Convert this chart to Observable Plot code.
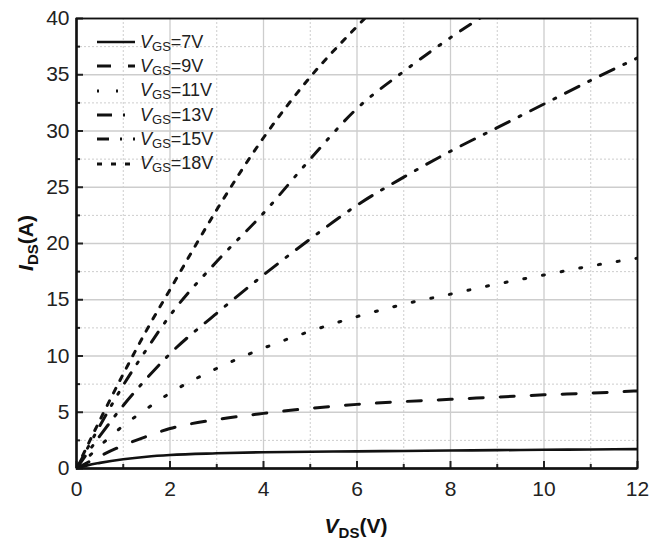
<!DOCTYPE html>
<html>
<head>
<meta charset="utf-8">
<script src="https://cdn.jsdelivr.net/npm/d3@7"></script>
<script src="https://cdn.jsdelivr.net/npm/@observablehq/plot@0.6"></script>
<style>
  html, body { margin: 0; padding: 0; background: #fff; }
  #wrap { position: relative; width: 663px; height: 540px; font-family: "Liberation Sans", Arial, sans-serif; }
  #legend { position: absolute; left: 96px; top: 30px; }
  .lg { display: flex; align-items: center; height: 24.3px; font-size: 18px; color: #222; }
  .lg svg { margin-right: 4px; }
  .lg i { font-style: italic; }
  .lg sub { font-size: 13px; vertical-align: -3px; line-height: 0; }
  #wrap > svg text.tick { font-size: 21px !important; }
</style>
</head>
<body>
<div id="wrap"><div id="legend"></div></div>
<script>
// ---- data ----
const vgsLabels = ["7V", "9V", "11V", "13V", "15V", "18V"];
const dashes = [null, "14,17", "2,17", "15,11,2,11", "12,11,2,11,2,11", "5,9"];

const vds7  = [0, 0.25, 0.5, 1, 1.5, 2, 3, 4, 5, 6, 7, 8, 9, 10, 11, 12];
const ids7  = [0, 0.3, 0.5, 0.82, 1.05, 1.2, 1.35, 1.45, 1.49, 1.52, 1.56, 1.6, 1.63, 1.66, 1.69, 1.72];
const vds9  = [0, 0.5, 1, 1.5, 2, 3, 4, 5, 6, 7, 8, 9, 10, 11, 12];
const ids9  = [0, 1.1, 2.05, 2.85, 3.55, 4.35, 4.9, 5.35, 5.7, 5.95, 6.15, 6.35, 6.55, 6.7, 6.9];
const vds11 = [0, 0.5, 1, 1.5, 2, 3, 4, 5, 6, 7, 8, 9, 10, 11, 12];
const ids11 = [0, 2.0, 3.8, 5.3, 6.7, 8.9, 10.7, 12.2, 13.5, 14.6, 15.5, 16.4, 17.2, 18.0, 18.7];
const vds13 = [0, 0.5, 1, 1.5, 2, 3, 4, 5, 6, 7, 8, 9, 10, 11, 12];
const ids13 = [0, 2.9, 5.6, 8.0, 10.2, 13.8, 17.2, 20.4, 23.4, 25.9, 28.2, 30.3, 32.4, 34.5, 36.5];
const vds15 = [0, 0.5, 1, 1.5, 2, 3, 4, 5, 6, 7, 8, 9];
const ids15 = [0, 3.8, 7.4, 10.6, 13.6, 18.4, 22.7, 27.5, 32.0, 35.3, 38.3, 41.0];
const vds18 = [0, 0.5, 1, 1.5, 2, 3, 4, 5, 6, 7];
const ids18 = [0, 4.3, 8.4, 12.3, 15.9, 23.0, 29.4, 34.8, 39.3, 43.5];

const xMajor = [0, 2, 4, 6, 8, 10, 12];
const xMinor = [1, 3, 5, 7, 9, 11];
const yMajor = [0, 5, 10, 15, 20, 25, 30, 35, 40];
const yMinor = [2.5, 7.5, 12.5, 17.5, 22.5, 27.5, 32.5, 37.5];

const seriesX = [vds7, vds9, vds11, vds13, vds15, vds18];
const seriesY = [ids7, ids9, ids11, ids13, ids15, ids18];

const rows = [];
seriesX.forEach((xs, s) => xs.forEach((x, i) => rows.push({s, x, y: seriesY[s][i]})));

const gridC = "#cdcdcd";
const lineMarks = vgsLabels.map((lab, s) =>
  Plot.line(rows.filter(r => r.s === s), {
    x: "x", y: "y", curve: "monotone-x", stroke: "#111",
    strokeWidth: s === 0 ? 2.6 : 3, strokeDasharray: dashes[s], clip: true
  })
);

const chart = Plot.plot({
  width: 663, height: 540,
  marginLeft: 76, marginRight: 26, marginTop: 18, marginBottom: 72,
  style: { fontFamily: "Liberation Sans, Arial, sans-serif", fontSize: "20px", color: "#222", background: "#fff" },
  x: { domain: [0, 12] },
  y: { domain: [0, 40] },
  marks: [
    Plot.gridX(xMinor, { stroke: gridC, strokeOpacity: 1, strokeDasharray: "2,2" }),
    Plot.gridY(yMinor, { stroke: gridC, strokeOpacity: 1, strokeDasharray: "2,2" }),
    Plot.gridX(xMajor, { stroke: gridC, strokeOpacity: 1, strokeWidth: 1.3 }),
    Plot.gridY(yMajor, { stroke: gridC, strokeOpacity: 1, strokeWidth: 1.3 }),
    ...lineMarks,
    Plot.axisX(xMajor, { tickSize: 0, tickPadding: 13, fontSize: 20, label: null }),
    Plot.axisY(yMajor, { tickSize: 0, tickPadding: 7, fontSize: 20, label: null }),
    Plot.axisX(xMajor, { tickSize: -7, text: null, label: null, strokeWidth: 2 }),
    Plot.axisX(xMinor, { tickSize: -4, text: null, label: null, strokeWidth: 2 }),
    Plot.axisY(yMajor, { tickSize: -7, text: null, label: null, strokeWidth: 2 }),
    Plot.axisY(yMinor, { tickSize: -4, text: null, label: null, strokeWidth: 2 }),
    Plot.frame({ stroke: "#111", strokeWidth: 1.8 }),
    Plot.ruleX([0], { stroke: "#111", strokeWidth: 2.4 }),
    Plot.ruleY([0], { stroke: "#111", strokeWidth: 2.4 })
  ]
});

document.getElementById("wrap").prepend(chart);

const svg = d3.select(chart);
// force tick label size on every Plot-generated text
svg.selectAll("text").classed("tick", true)
  .attr("font-size", 21).style("font-size", "21px");
svg.selectAll("g").filter(function () { return this.getAttribute("font-size"); })
  .attr("font-size", 21);

// axis titles with subscripts
const yl = svg.append("text")
  .attr("transform", "translate(33,243) rotate(-90)")
  .attr("text-anchor", "middle")
  .attr("font-weight", "bold").attr("font-size", 21).attr("fill", "#111")
  .attr("font-family", "Liberation Sans, Arial, sans-serif");
yl.append("tspan").attr("font-style", "italic").text("I");
yl.append("tspan").attr("font-size", 15).attr("dy", 5).text("DS");
yl.append("tspan").attr("dy", -5).text("(A)");

const xl = svg.append("text")
  .attr("x", 356).attr("y", 533)
  .attr("text-anchor", "middle")
  .attr("font-weight", "bold").attr("font-size", 21).attr("fill", "#111")
  .attr("font-family", "Liberation Sans, Arial, sans-serif");
xl.append("tspan").attr("font-style", "italic").text("V");
xl.append("tspan").attr("font-size", 15).attr("dy", 5).text("DS");
xl.append("tspan").attr("dy", -5).text("(V)");

// legend
const lg = d3.select("#legend");
vgsLabels.forEach((lab, s) => {
  const row = lg.append("div").attr("class", "lg");
  const sv = row.append("svg").attr("width", 40).attr("height", 10);
  sv.append("line").attr("x1", 1).attr("x2", 39).attr("y1", 5).attr("y2", 5)
    .attr("stroke", "#111").attr("stroke-width", s === 0 ? 2.6 : 3)
    .attr("stroke-dasharray", dashes[s]);
  const t = row.append("span");
  t.append("i").text("V");
  t.append("sub").text("GS");
  t.append("span").text("=" + lab);
});
</script>
</body>
</html>
